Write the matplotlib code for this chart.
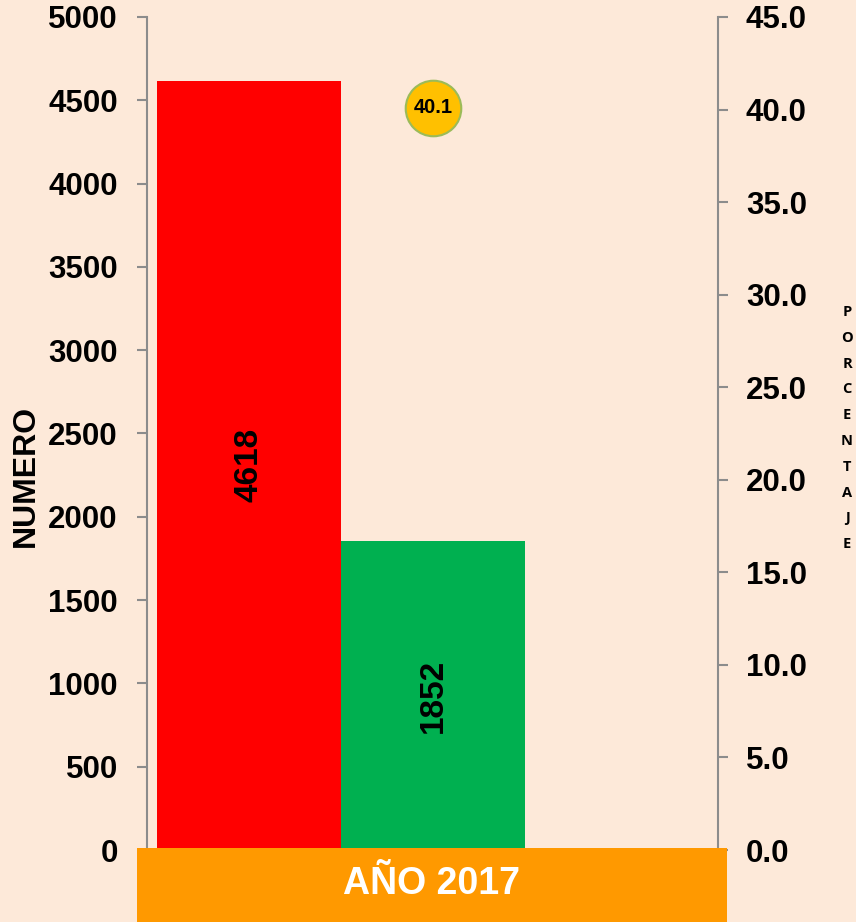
import matplotlib.pyplot as plt
from matplotlib.patches import Rectangle

plt.rcParams['font.family'] = ['Liberation Sans', 'DejaVu Sans']

# datos
categorias = ['Total', 'Casos']
valores = [4618, 1852]
colores = ['#FF0000', '#00B050']
porcentaje = 40.1
etiqueta_x = 'AÑO 2017'
etiqueta_der = 'PORCENTAJE'

fondo = '#FDE9D9'
gris = '#8C8C8C'

fig = plt.figure(figsize=(8.56, 9.22), dpi=100, facecolor=fondo)
ax = fig.add_axes([147 / 856, 72 / 922, 571 / 856, 833 / 922])
ax.set_facecolor(fondo)

pos = list(range(len(valores)))
bars = ax.bar(pos, valores, width=1.0, color=colores, zorder=2)
ax.set_xlim(-0.554, 2.549)
ax.set_ylim(0, 5000)
ax.set_yticks(range(0, 5001, 500))
ax.set_xticks([])

for b, v in zip(bars, valores):
    ax.text(b.get_x() + b.get_width() / 2, v / 2, str(v), rotation=90,
            ha='center', va='center', fontsize=24, fontweight='bold', zorder=3)

for s in ['top', 'bottom', 'right']:
    ax.spines[s].set_visible(False)
ax.spines['left'].set_color(gris)
ax.spines['left'].set_linewidth(1.5)
ax.tick_params(axis='y', direction='out', length=7, width=1.5, color=gris,
               labelsize=22.5, pad=14)
for t in ax.get_yticklabels():
    t.set_fontweight('bold')
ax.set_ylabel('NUMERO', fontsize=23, fontweight='bold')
ax.yaxis.set_label_coords(-0.186, 0.449)

ax2 = ax.twinx()
ax2.set_ylim(0, 45)
ax2.set_yticks([i * 5 for i in range(10)])
ax2.set_yticklabels([f'{i * 5:.1f}' for i in range(10)])
for s in ['top', 'bottom', 'left']:
    ax2.spines[s].set_visible(False)
ax2.spines['right'].set_color(gris)
ax2.spines['right'].set_linewidth(1.5)
ax2.tick_params(axis='y', direction='out', length=7, width=1.5, color=gris,
                labelsize=22.5, pad=13)
for t in ax2.get_yticklabels():
    t.set_fontweight('bold')

ax2.plot([pos[1]], [porcentaje], 'o', markersize=40, markerfacecolor='#FFC000',
         markeredgecolor='#9BBB59', markeredgewidth=1.5, zorder=4, clip_on=False)
ax2.text(pos[1], porcentaje, f'{porcentaje:.1f}', ha='center', va='center',
         fontsize=14.5, fontweight='bold', zorder=5)

# etiqueta vertical de la derecha, letra por letra
for i, letra in enumerate(etiqueta_der):
    fig.text(847 / 856, 1 - (312 + i * 25.8) / 922, letra, ha='center', va='center',
             fontsize=10.5, fontweight='bold', family='Open Sans')

# banda naranja con el año
fig.patches.append(Rectangle((137 / 856, 0), 590 / 856, 74 / 922,
                             transform=fig.transFigure, facecolor='#FF9900',
                             edgecolor='none', zorder=10))
fig.text(432 / 856, 1 - 884 / 922, etiqueta_x, ha='center', va='center',
         color='white', fontsize=27, fontweight='bold', zorder=11)

fig.savefig('out.png', dpi=100, facecolor=fondo)
